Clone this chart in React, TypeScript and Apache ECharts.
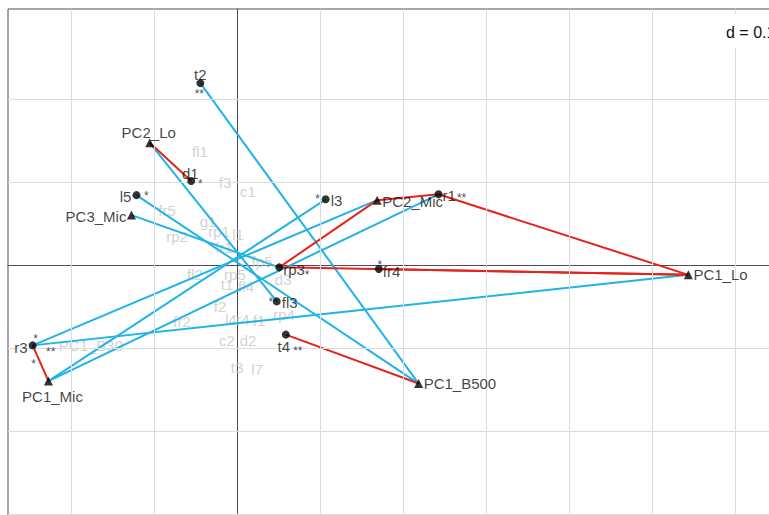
import React, { useEffect, useRef } from "react";
import * as echarts from "echarts";

// ---- data ----
const pointNames = ["t2", "PC2_Lo", "d1", "l5", "PC3_Mic", "l3", "PC2_Mic", "r1", "rp3", "fr4", "fl3", "t4", "PC1_B500", "PC1_Lo", "r3", "PC1_Mic"];
const pointX = [-0.045, -0.106, -0.056, -0.122, -0.128, 0.106, 0.168, 0.242, 0.050, 0.170, 0.047, 0.058, 0.218, 0.543, -0.247, -0.228];
const pointY = [0.220, 0.148, 0.102, 0.085, 0.061, 0.080, 0.079, 0.086, -0.002, -0.004, -0.043, -0.083, -0.142, -0.011, -0.096, -0.139];
const pointKind = ["dot", "tri", "dot", "dot", "tri", "dot", "tri", "dot", "dot", "dot", "dot", "dot", "tri", "tri", "dot", "tri"];
const pointStars = [["**"], [], ["*"], ["*"], [], ["*"], [], ["**"], ["*"], ["*"], ["*"], ["**"], [], [], ["*", "**", "*"], []];

const positiveLinks = [
  ["PC2_Lo", "d1"], ["r3", "PC1_Mic"], ["rp3", "PC2_Mic"], ["PC2_Mic", "r1"],
  ["r1", "PC1_Lo"], ["rp3", "PC1_Lo"], ["fr4", "PC1_Lo"], ["t4", "PC1_B500"],
];
const negativeLinks = [
  ["t2", "PC1_B500"], ["PC2_Lo", "fl3"], ["l5", "PC1_B500"], ["PC3_Mic", "rp3"],
  ["r3", "PC2_Mic"], ["r3", "PC1_Lo"], ["PC1_Mic", "l3"], ["PC1_Mic", "r1"],
];

const greyNames = ["fl1", "f3", "c1", "fr5", "g1", "rp1", "rp2", "l1", "fr1", "fl2", "t1", "fl4", "rp5", "fp5", "d3", "rp4", "f2", "fr2", "l4", "r4", "f1", "c2", "d2", "t3", "l7", "PC1_B30"];
const greyX = [-0.0454, -0.0153, 0.0124, -0.0852, -0.0358, -0.0225, -0.0731, 0.0004, -0.0165, -0.0514, -0.0129, 0.0100, -0.0033, 0.0293, 0.0546, 0.0558, -0.0213, -0.0671, -0.0081, 0.0064, 0.0257, -0.0129, 0.0124, -0.0008, 0.0233, -0.1768];
const greyY = [0.1370, 0.1008, 0.0888, 0.0671, 0.0527, 0.0418, 0.0346, 0.0370, 0.0225, -0.0111, -0.0232, -0.0256, -0.0111, 0.0045, -0.0172, -0.0582, -0.0497, -0.0678, -0.0654, -0.0654, -0.0666, -0.0907, -0.0907, -0.1232, -0.1256, -0.0967];

const gridXTicks = [-0.2, -0.1, 0.1, 0.2, 0.3, 0.4, 0.5, 0.6, 0.7];
const gridYTicks = [0.2, 0.1, -0.1, -0.2, -0.3, -0.4];
const scaleLabel = "d = 0.1";

// ---- layout / style (pixel offsets of labels) ----
type LabelLayout = { off: [number, number]; align: "left" | "right" | "center"; stars: [number, number][] };
const labelLayout: Record<string, LabelLayout> = {
  t2: { off: [0, -9], align: "center", stars: [[-1, 11]] },
  PC2_Lo: { off: [-1, -10], align: "center", stars: [] },
  d1: { off: [-1, -8], align: "center", stars: [[9, 3]] },
  l5: { off: [-5, 1], align: "right", stars: [[10, 1]] },
  PC3_Mic: { off: [-5, 1], align: "right", stars: [] },
  l3: { off: [5, 1], align: "left", stars: [[-8, 0]] },
  PC2_Mic: { off: [5, 1], align: "left", stars: [] },
  r1: { off: [4, 1], align: "left", stars: [[23, 4]] },
  rp3: { off: [4, 2], align: "left", stars: [[28, 8]] },
  fr4: { off: [4, 2], align: "left", stars: [[1, -4]] },
  fl3: { off: [5, 1], align: "left", stars: [[-6, 1]] },
  t4: { off: [-2, 12], align: "center", stars: [[12, 16]] },
  PC1_B500: { off: [5, 0], align: "left", stars: [] },
  PC1_Lo: { off: [5, 0], align: "left", stars: [] },
  r3: { off: [-5, 2], align: "right", stars: [[3, -6], [18, 7], [1, 19]] },
  PC1_Mic: { off: [4, 15], align: "center", stars: [] },
};

const FONT = "Arial, 'Liberation Sans', sans-serif";
const FRAME = "#55475a";
const GRIDC = "#d9dddd";
const BLUE = "#20b3e8";
const RED = "#e3241c";

// pixel geometry of the plotting frame (it runs past the right and bottom edges of the window)
const PX_PER_UNIT = 830;
const ORIGIN_X = 237.7;
const ORIGIN_Y = 265.7;
const FRAME_LEFT = 8;
const FRAME_TOP = 9;
const FRAME_W = 900;
const FRAME_H = 600;
const CANVAS_W = 960;
const CANVAS_H = 640;

export default function App() {
  const ref = useRef<HTMLDivElement>(null);

  useEffect(() => {
    if (!ref.current) return;
    const chart = echarts.init(ref.current, undefined, { renderer: "svg" });

    const xMin = (FRAME_LEFT - ORIGIN_X) / PX_PER_UNIT;
    const xMax = xMin + FRAME_W / PX_PER_UNIT;
    const yMax = (ORIGIN_Y - FRAME_TOP) / PX_PER_UNIT;
    const yMin = yMax - FRAME_H / PX_PER_UNIT;

    const idx = (n: string) => pointNames.indexOf(n);
    const coord = (n: string) => [pointX[idx(n)], pointY[idx(n)]];

    const linkSeries = (links: string[][], color: string, z: number) =>
      links.map(([a, b]) => ({
        type: "line",
        data: [coord(a), coord(b)],
        showSymbol: false,
        symbol: "none",
        silent: true,
        z,
        lineStyle: { color, width: 2 },
      }));

    const makePointData = (kind: string) =>
      pointNames
        .map((n, i) => ({ n, i }))
        .filter(({ i }) => pointKind[i] === kind)
        .map(({ n, i }) => {
          const L = labelLayout[n];
          return {
            name: n,
            value: [pointX[i], pointY[i]],
            label: {
              show: true,
              position: "inside",
              offset: L.off,
              align: L.align,
              verticalAlign: "middle",
              formatter: n,
              color: "#111111",
              fontSize: 15,
              fontFamily: FONT,
            },
          };
        });

    const starData: any[] = [];
    pointNames.forEach((n, i) => {
      const L = labelLayout[n];
      pointStars[i].forEach((s, k) => {
        const off = L.stars[k] || [8, 0];
        starData.push({
          value: [pointX[i], pointY[i]],
          label: {
            show: true,
            position: "inside",
            offset: off,
            align: "center",
            verticalAlign: "middle",
            formatter: s,
            color: "#222",
            fontSize: 12,
            fontFamily: FONT,
          },
        });
      });
    });

    const greyData = greyNames.map((n, i) => ({
      value: [greyX[i], greyY[i]],
      label: { show: true, formatter: n },
    }));

    const option: any = {
      animation: false,
      backgroundColor: "#ffffff",
      grid: {
        show: true,
        left: FRAME_LEFT,
        top: FRAME_TOP,
        width: FRAME_W,
        height: FRAME_H,
        borderColor: FRAME,
        borderWidth: 1,
        backgroundColor: "#ffffff",
        containLabel: false,
      },
      xAxis: {
        type: "value",
        min: xMin,
        max: xMax,
        axisLine: { show: true, onZero: true, lineStyle: { color: FRAME, width: 1 } },
        axisTick: { show: false },
        axisLabel: { show: false },
        splitLine: { show: false },
      },
      yAxis: {
        type: "value",
        min: yMin,
        max: yMax,
        axisLine: { show: true, onZero: true, lineStyle: { color: FRAME, width: 1 } },
        axisTick: { show: false },
        axisLabel: { show: false },
        splitLine: { show: false },
      },
      series: [
        {
          type: "line",
          data: [],
          silent: true,
          z: 0,
          markLine: {
            silent: true,
            symbol: ["none", "none"],
            label: { show: false },
            lineStyle: { color: GRIDC, width: 1, type: "solid" },
            data: [
              ...gridXTicks.map((v) => ({ xAxis: v })),
              ...gridYTicks.map((v) => ({ yAxis: v })),
            ],
          },
        },
        {
          type: "scatter",
          data: greyData,
          symbolSize: 1,
          silent: true,
          z: 1,
          itemStyle: { color: "rgba(0,0,0,0)" },
          label: {
            show: true,
            position: "inside",
            align: "center",
            verticalAlign: "middle",
            color: "#c6c6c6",
            fontSize: 15,
            fontFamily: FONT,
          },
        },
        ...linkSeries(negativeLinks, BLUE, 2),
        ...linkSeries(positiveLinks, RED, 3),
        {
          type: "scatter",
          data: makePointData("dot"),
          symbol: "circle",
          symbolSize: 8,
          silent: true,
          z: 5,
          itemStyle: { color: "#000000" },
        },
        {
          type: "scatter",
          data: makePointData("tri"),
          symbol: "triangle",
          symbolSize: 9,
          silent: true,
          z: 5,
          itemStyle: { color: "#000000" },
        },
        {
          type: "scatter",
          data: starData,
          symbolSize: 1,
          silent: true,
          z: 6,
          itemStyle: { color: "rgba(0,0,0,0)" },
        },
      ],
      graphic: [
        {
          type: "rect",
          shape: { x: 716, y: 14, width: 70, height: 34 },
          style: { fill: "#ffffff" },
          z: 100,
        },
        {
          type: "text",
          x: 726,
          y: 32,
          style: {
            text: scaleLabel,
            fill: "#111",
            font: `16px ${FONT}`,
            textVerticalAlign: "middle",
            verticalAlign: "middle",
          },
          z: 101,
        },
      ],
    };

    chart.setOption(option);
    return () => chart.dispose();
  }, []);

  return (
    <div
      ref={ref}
      style={{ position: "fixed", left: 0, top: 0, width: CANVAS_W, height: CANVAS_H, background: "#fff" }}
    />
  );
}
